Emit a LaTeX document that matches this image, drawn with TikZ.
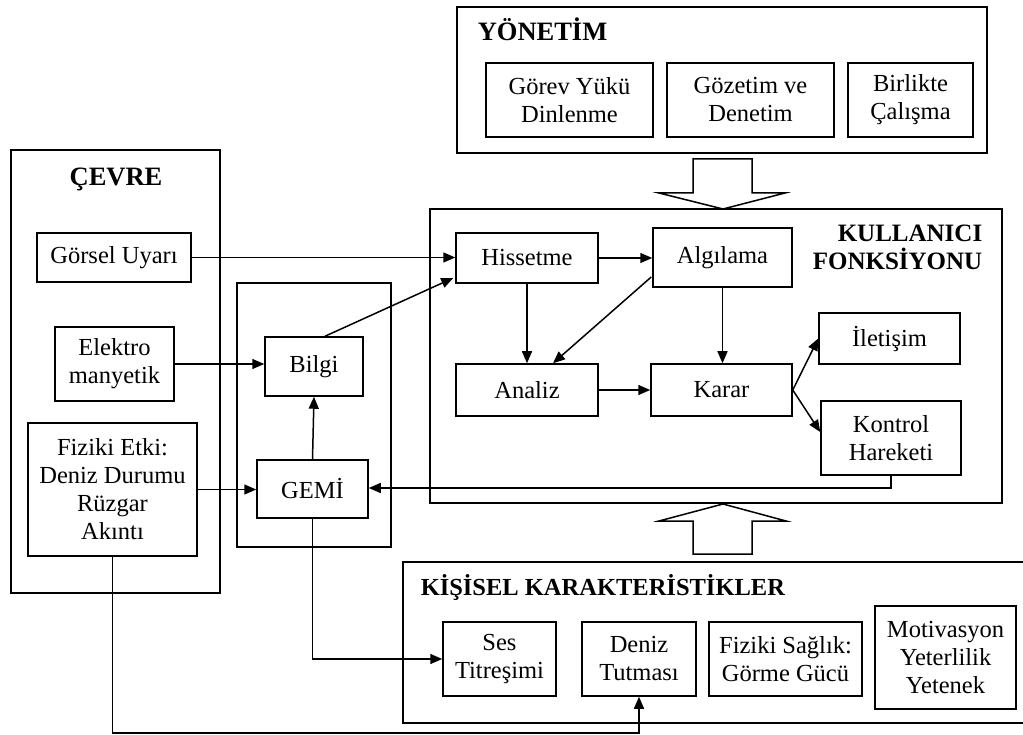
\documentclass[tikz,border=0pt]{standalone}
\usepackage{fontspec}
\setmainfont{Liberation Serif}
\usetikzlibrary{arrows.meta,calc}
\begin{document}
\begin{tikzpicture}[x=1pt,y=-1pt,
  line width=1.5pt,
  box/.style={draw, line width=1.5pt, inner sep=0pt, align=center,
    font=\fontsize{24.5}{28}\selectfont},
  title/.style={inner sep=0pt, font=\fontsize{25}{28}\selectfont\bfseries},
  arr/.style={-{Triangle[length=12pt,width=10pt]}, line width=1.5pt},
  bigarrow/.style={draw, line width=1.5pt, fill=white}]
\useasboundingbox (0,0) rectangle (1023,735);
% containers
\node[box, minimum width=530pt, minimum height=146pt] (yon) at (722,80) {};
\node[box, minimum width=572pt, minimum height=294pt] (kul) at (716,356) {};
\node[box, minimum width=209pt, minimum height=443pt] (cevre) at (115.5,371.5) {};
\node[box, minimum width=154pt, minimum height=264pt] (mid) at (314,415) {};
\draw (1030,562) -- (403,562) -- (403,723) -- (1030,723);
\coordinate (kis) at (716,642);
% titles
\node[title, anchor=base west, font=\fontsize{26.5}{28}\selectfont\bfseries] (yont) at (477,41) {YÖNETİM};
\node[title, anchor=base, font=\fontsize{26.5}{28}\selectfont\bfseries] (cevret) at (116,186) {ÇEVRE};
\node[title, anchor=base east] (kult1) at (983,242) {KULLANICI};
\node[title, anchor=base east] (kult2) at (983,270) {FONKSİYONU};
\node[title, anchor=base west, font=\fontsize{24.5}{28}\selectfont\bfseries] (kist) at (420,595) {KİŞİSEL KARAKTERİSTİKLER};
% YÖNETİM boxes
\node[box, minimum width=167pt, minimum height=74pt] (gorev) at (569.5,100) {Görev Yükü\\Dinlenme};
\node[box, minimum width=167pt, minimum height=74pt] (gozetim) at (750.5,100) {Gözetim ve\\Denetim};
\node[box, minimum width=125pt, minimum height=74pt] (birlikte) at (910.5,100) {Birlikte\\Çalışma};
% KULLANICI boxes
\node[box, minimum width=142pt, minimum height=50pt] (hiss) at (527,258) {Hissetme};
\node[box, minimum width=139pt, minimum height=59pt] (alg) at (722.5,257.5) {Algılama};
\node[box, minimum width=142pt, minimum height=52pt] (analiz) at (527,390) {Analiz};
\node[box, minimum width=141pt, minimum height=52pt] (karar) at (721.5,390) {Karar};
\node[box, minimum width=141pt, minimum height=51pt] (ilet) at (889.5,338.5) {İletişim};
\node[box, minimum width=140pt, minimum height=74pt] (kontrol) at (891,438) {Kontrol\\Hareketi};
% ÇEVRE boxes
\node[box, minimum width=154pt, minimum height=49pt] (gorsel) at (114,257.5) {Görsel Uyarı};
\node[box, minimum width=119pt, minimum height=74pt] (elektro) at (114.5,364) {Elektro\\manyetik};
\node[box, minimum width=169pt, minimum height=133pt] (fiziki) at (112.5,489.5) {Fiziki Etki:\\Deniz Durumu\\Rüzgar\\Akıntı};
% middle boxes
\node[box, minimum width=98pt, minimum height=59pt] (bilgi) at (314,366.5) {Bilgi};
\node[box, minimum width=111pt, minimum height=58pt] (gemi) at (312.5,489) {GEMİ};
% KİŞİSEL boxes
\node[box, minimum width=113pt, minimum height=74pt] (ses) at (499.5,659) {Ses\\Titreşimi};
\node[box, minimum width=114pt, minimum height=74pt] (deniz) at (639,659) {Deniz\\Tutması};
\node[box, minimum width=153pt, minimum height=74pt] (fsaglik) at (785.5,659) {Fiziki Sağlık:\\Görme Gücü};
\node[box, minimum width=141pt, minimum height=103pt] (motiv) at (945.5,657.5) {Motivasyon\\Yeterlilik\\Yetenek};
% big hollow arrows
\draw[bigarrow] (693,159) -- (752,159) -- (752,193) -- (785,193) -- (723,209) -- (659,193) -- (693,193) -- cycle;
\draw[bigarrow] (693,554) -- (752,554) -- (752,521) -- (786,521) -- (723,504) -- (659,521) -- (693,521) -- cycle;
% connectors
\draw[arr] (gorsel.east) -- (gorsel.east -| hiss.west);
\draw[arr] (elektro.east) -- (elektro.east -| bilgi.west);
\draw[arr] (fiziki.east) -- (fiziki.east -| gemi.west);
\draw[arr] ($(bilgi.north)+(11,0)$) -- ($(hiss.west)+(-2,20)$);
\draw[arr] (gemi.north) -- (bilgi.south);
\draw[arr] (hiss.east) -- (hiss.east -| alg.west);
\draw[arr] (hiss.south) -- (analiz.north);
\draw[arr] ($(alg.west)+(-1,19.5)$) -- ($(analiz.north)+(26,0)$);
\draw[arr] (alg.south) -- (alg.south |- karar.north);
\draw[arr] (analiz.east) -- (karar.west);
\draw[arr] (karar.east) -- (ilet.west);
\draw[arr] (karar.east) -- ($(kontrol.west)+(0,-6)$);
\draw[arr] (kontrol.south) -- (891,488) -- (gemi.east |- 891,488);
\draw[arr] (gemi.south) -- (312.5,659) -- (ses.west);
\draw[arr] (fiziki.south) -- (112.5,733) -- (639,733) -- (deniz.south);
\end{tikzpicture}
\end{document}
